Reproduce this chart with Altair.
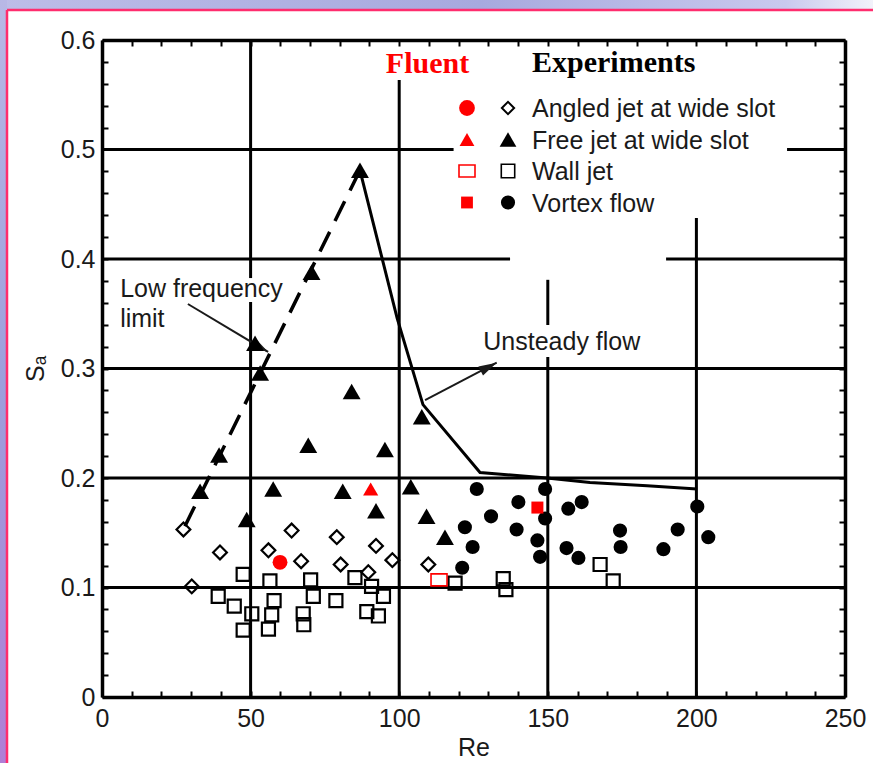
import altair as alt
import pandas as pd

# ---------------- values ----------------
angled_re = [27.4, 30.2, 39.7, 56.0, 63.8, 67.0, 79.0, 80.3, 89.6, 92.2, 97.7, 109.8]
angled_sa = [0.153, 0.101, 0.132, 0.134, 0.152, 0.124, 0.146, 0.121, 0.114, 0.138, 0.125, 0.121]

free_re = [33.0, 39.4, 48.7, 51.5, 53.2, 57.6, 69.4, 70.5, 81.0, 84.0, 86.8, 92.2, 95.2,
           103.9, 107.6, 109.2, 115.4]
free_sa = [0.188, 0.221, 0.162, 0.323, 0.296, 0.190, 0.230, 0.388, 0.188, 0.279, 0.481, 0.170,
           0.226, 0.192, 0.256, 0.165, 0.146]

wall_re = [39.1, 44.5, 47.5, 47.5, 50.4, 56.0, 56.5, 57.1, 57.9, 67.7, 67.9, 70.2, 71.1, 78.7,
           85.1, 89.1, 90.7, 93.0, 94.7, 118.8, 135.0, 135.9, 167.6, 172.0]
wall_sa = [0.092, 0.083, 0.112, 0.061, 0.076, 0.062, 0.106, 0.075, 0.088, 0.076, 0.066, 0.107,
           0.092, 0.088, 0.109, 0.078, 0.101, 0.074, 0.092, 0.104, 0.108, 0.098, 0.121, 0.106]

vortex_re = [121.2, 122.1, 124.7, 126.1, 130.9, 139.5, 140.1, 146.5, 147.4, 149.1, 149.1, 156.3,
             156.9, 160.3, 161.4, 174.3, 174.5, 188.9, 193.7, 200.3, 204.0]
vortex_sa = [0.118, 0.155, 0.137, 0.190, 0.165, 0.153, 0.178, 0.143, 0.128, 0.190, 0.163, 0.136,
             0.172, 0.127, 0.178, 0.152, 0.137, 0.135, 0.153, 0.174, 0.146]

# Fluent results: angled jet, free jet, wall jet, vortex flow
fluent_re = [59.9, 90.4, 113.4, 146.5]
fluent_sa = [0.123, 0.190, 0.107, 0.173]

# boundary curves
unsteady_re = [86.8, 99.3, 108.0, 127.2, 149.7, 164.2, 183.4, 200.2]
unsteady_sa = [0.481, 0.346, 0.267, 0.205, 0.200, 0.196, 0.193, 0.190]
lowfreq_re = [27.9, 86.8]
lowfreq_sa = [0.156, 0.481]

# grid segments of the original (partly interrupted around texts)
grid_h_y = [0.1, 0.2, 0.3, 0.4, 0.4, 0.5, 0.5]
grid_h_from = [0, 0, 0, 0, 189.8, 0, 230.5]
grid_h_to = [250, 250, 250, 137.3, 250, 118.3, 250]
grid_v_x = [50, 50, 100, 150, 150, 200]
grid_v_from = [0, 0.3826, 0, 0, 0.3397, 0]
grid_v_to = [0.3607, 0.6, 0.5635, 0.3105, 0.381, 0.4374]

legend_labels = ["Angled jet at wide slot", "Free jet at wide slot", "Wall jet", "Vortex flow"]

x_ticks = list(range(0, 251, 10))
y_ticks = [round(i * 0.02, 2) for i in range(31)]

# ---------------- layout ----------------
W, H = 743, 657
PAD = {"left": 102, "top": 40, "right": 28, "bottom": 66}
FONT = "Liberation Sans"
SERIF = "Liberation Serif"
RED = "#ff0000"
INK = "#1a1a1a"

xs = alt.Scale(domain=[0, 250], nice=False, zero=False)
ys = alt.Scale(domain=[0, 0.6], nice=False, zero=False)

common_axis = dict(
    domainColor="black", domainWidth=3.5, tickColor="black", tickWidth=2,
    tickSize=alt.ExprRef(expr="-6"), grid=False, labelOverlap=False, labelFlush=False,
    labelFont=FONT, labelFontSize=25, labelColor=INK,
    titleFont=FONT, titleFontSize=25, titleColor=INK, titleFontWeight="normal",
)
ax_bottom = alt.Axis(orient="bottom", values=x_ticks,
                     labelExpr="datum.value % 50 == 0 ? datum.label : ''",
                     labelPadding=15, title="Re", titlePadding=4, **common_axis)
ax_left = alt.Axis(orient="left", values=y_ticks,
                   labelExpr="round(datum.value*100) % 10 == 0 ? (datum.value == 0 ? '0' : format(datum.value, '.1f')) : ''",
                   labelPadding=13, title="Sₐ", titlePadding=12, **common_axis)
ax_top = alt.Axis(orient="top", values=x_ticks, labels=False, title=None, **common_axis)
ax_right = alt.Axis(orient="right", values=y_ticks, labels=False, title=None, **common_axis)


def X(field="Re", axis=None):
    return alt.X(f"{field}:Q", scale=xs, axis=axis)


def Y(field="Sa", axis=None):
    return alt.Y(f"{field}:Q", scale=ys, axis=axis)


def pts(re, sa):
    return pd.DataFrame({"Re": re, "Sa": sa})


one = pd.DataFrame({"k": [0]})
layers = []

# ---- page decoration: lavender strips and pink frame ----
top_grad = alt.LinearGradient(gradient="linear", x1=0, x2=1, y1=0, y2=0, stops=[
    alt.GradientStop(color="#bdbde8", offset=0), alt.GradientStop(color="#a7a9de", offset=0.55),
    alt.GradientStop(color="#c9c9ee", offset=0.9), alt.GradientStop(color="#f2f2fa", offset=1)])
left_grad = alt.LinearGradient(gradient="linear", x1=0, x2=0, y1=0, y2=1, stops=[
    alt.GradientStop(color="#b8b8e6", offset=0), alt.GradientStop(color="#9d9fdc", offset=0.5),
    alt.GradientStop(color="#b07ed6", offset=1)])
L, T = -PAD["left"], -PAD["top"]
R, B = W + PAD["right"], H + PAD["bottom"]
layers.append(alt.Chart(one).mark_rect(color=top_grad).encode(
    x=alt.value(L), x2=alt.value(R), y=alt.value(T), y2=alt.value(T + 10)))
layers.append(alt.Chart(one).mark_rect(color=left_grad).encode(
    x=alt.value(L), x2=alt.value(L + 7), y=alt.value(T), y2=alt.value(B)))
layers.append(alt.Chart(one).mark_rule(color="#ff2d6e", strokeWidth=2.5).encode(
    x=alt.value(L + 7), x2=alt.value(R), y=alt.value(T + 10)))
layers.append(alt.Chart(one).mark_rule(color="#ff2d6e", strokeWidth=2.5).encode(
    x=alt.value(L + 7), y=alt.value(T + 10), y2=alt.value(B)))

# ---- grid ----
gh = pd.DataFrame({"Re": grid_h_from, "Re2": grid_h_to, "Sa": grid_h_y, "Sa2": grid_h_y})
gv = pd.DataFrame({"Re": grid_v_x, "Re2": grid_v_x, "Sa": grid_v_from, "Sa2": grid_v_to})
for g in (gh, gv):
    layers.append(alt.Chart(g).mark_rule(color="black", strokeWidth=3).encode(
        x=X(), x2="Re2:Q", y=Y(), y2="Sa2:Q"))

# ---- boundary curves ----
layers.append(alt.Chart(pts(lowfreq_re, lowfreq_sa)).mark_line(
    color="black", strokeWidth=3.5, strokeDash=[22, 12]).encode(x=X(), y=Y()))
layers.append(alt.Chart(pts(unsteady_re, unsteady_sa)).mark_line(
    color="black", strokeWidth=3).encode(x=X(), y=Y(), order=alt.Order("Re:Q")))

# ---- annotations with arrows ----
arrows = pd.DataFrame({"Re": [28.9, 108.7], "Sa": [0.3589, 0.2712],
                       "Re2": [55.9, 132.8], "Sa2": [0.3151, 0.3053]})
layers.append(alt.Chart(arrows).mark_rule(color=INK, strokeWidth=2).encode(
    x=X(), y=Y(), x2="Re2:Q", y2="Sa2:Q"))
head = "M0,0L-1,-0.28L-1,0.28Z"
for i, ang in enumerate([31, 332.5]):
    layers.append(alt.Chart(arrows.iloc[[i]]).mark_point(
        shape=head, filled=True, color=INK, opacity=1, size=1300, angle=ang).encode(
        x=X("Re2"), y=Y("Sa2")))

layers.append(alt.Chart(pts([6.1], [0.3656])).mark_text(
    text=["Low frequency", "limit"], font=FONT, fontSize=25, color=INK, align="left",
    baseline="alphabetic", lineHeight=30).encode(x=X(), y=Y()))
layers.append(alt.Chart(pts([128.3], [0.317])).mark_text(
    text="Unsteady flow", font=FONT, fontSize=25, color=INK, align="left",
    baseline="alphabetic").encode(x=X(), y=Y()))

# ---- experiments (carry the axes) ----
layers.append(alt.Chart(pts(wall_re, wall_sa)).mark_point(
    shape="square", filled=False, color="black", strokeWidth=2.2, size=170, opacity=1).encode(
    x=X(axis=ax_bottom), y=Y(axis=ax_left)))
layers.append(alt.Chart(pts(angled_re, angled_sa)).mark_point(
    shape="diamond", filled=False, color="black", strokeWidth=2.2, size=190, opacity=1).encode(
    x=X(), y=Y()))
layers.append(alt.Chart(pts(free_re, free_sa)).mark_point(
    shape="triangle-up", filled=True, color="black", size=320, opacity=1).encode(x=X(), y=Y()))
layers.append(alt.Chart(pts(vortex_re, vortex_sa)).mark_point(
    shape="circle", filled=True, color="black", size=200, opacity=1).encode(x=X(), y=Y()))
# invisible layer carrying the top and right axes (inner ticks)
layers.append(alt.Chart(pts(vortex_re, vortex_sa)).mark_point(opacity=0).encode(
    x=X(axis=ax_top), y=Y(axis=ax_right)))

# ---- Fluent results ----
rect_path = "M-1,-0.75L1,-0.75L1,0.75L-1,0.75Z"
fl_styles = [dict(shape="circle", filled=True, size=220),
             dict(shape="triangle-up", filled=True, size=230),
             dict(shape=rect_path, filled=False, size=256, strokeWidth=1.6),
             dict(shape="square", filled=True, size=144)]
for i, st in enumerate(fl_styles):
    layers.append(alt.Chart(pts([fluent_re[i]], [fluent_sa[i]])).mark_point(
        color=RED, opacity=1, **st).encode(x=X(), y=Y()))

# ---- legend (pixel placement inside the plot area) ----
row_y = [68, 99.5, 131, 162.5]
red_x, black_x, text_x = 365, 406, 430
leg_red = [dict(shape="circle", filled=True, size=250),
           dict(shape="triangle-up", filled=True, size=220),
           dict(shape=rect_path, filled=False, size=256, strokeWidth=1.6),
           dict(shape="square", filled=True, size=140)]
leg_black = [dict(shape="diamond", filled=False, size=150, strokeWidth=2),
             dict(shape="triangle-up", filled=True, size=280),
             dict(shape="square", filled=False, size=180, strokeWidth=1.6),
             dict(shape="circle", filled=True, size=200)]
for i, lab in enumerate(legend_labels):
    layers.append(alt.Chart(one).mark_point(color=RED, opacity=1, **leg_red[i]).encode(
        x=alt.value(red_x), y=alt.value(row_y[i])))
    layers.append(alt.Chart(one).mark_point(color="black", opacity=1, **leg_black[i]).encode(
        x=alt.value(black_x), y=alt.value(row_y[i])))
    layers.append(alt.Chart(one).mark_text(
        text=lab, font=FONT, fontSize=25, color=INK, align="left", baseline="alphabetic").encode(
        x=alt.value(text_x), y=alt.value(row_y[i] + 9)))
layers.append(alt.Chart(one).mark_text(
    text="Fluent", font=SERIF, fontSize=30, fontWeight="bold", color=RED, align="center",
    baseline="alphabetic").encode(x=alt.value(325.5), y=alt.value(33)))
layers.append(alt.Chart(one).mark_text(
    text="Experiments", font=SERIF, fontSize=30, fontWeight="bold", color="black", align="left",
    baseline="alphabetic").encode(x=alt.value(430), y=alt.value(32)))

chart = alt.layer(*layers).resolve_axis(x="independent", y="independent").properties(
    width=W, height=H, padding=PAD, autosize=alt.AutoSizeParams(type="none"),
    background="white",
).configure_view(stroke=None)

chart.save("out.html", embed_options={"renderer": "svg", "actions": False})
